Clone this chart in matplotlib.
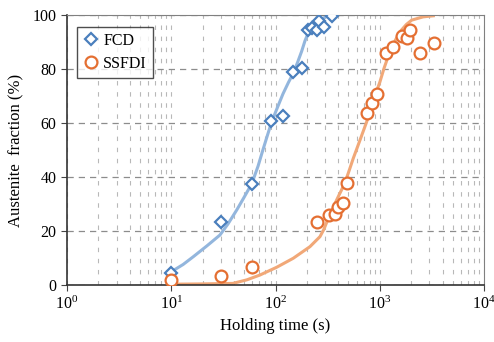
import numpy as np
import matplotlib.pyplot as plt
from matplotlib.ticker import LogLocator, NullFormatter

plt.rcParams['font.family'] = ['Liberation Serif', 'DejaVu Serif']
plt.rcParams['mathtext.fontset'] = 'stix'

# измеренные точки
fcd_t = [10, 30, 60, 90, 117, 148, 178, 206, 225, 248, 263, 292, 346]
fcd_f = [4.4, 23.3, 37.4, 60.8, 62.7, 79.0, 80.2, 94.6, 95.3, 94.4, 97.8, 95.5, 99.6]

ssfdi_t = [10, 30, 60, 248, 326, 372, 401, 448, 488, 749, 849, 948,
           1140, 1349, 1623, 1812, 1951, 2432, 3337]
ssfdi_f = [1.9, 3.3, 6.7, 23.5, 25.9, 26.3, 29.0, 30.5, 37.9, 63.6, 67.3, 70.6,
           86.0, 88.0, 92.2, 91.4, 94.4, 85.8, 89.7]

# аппроксимирующие кривые
fcd_fit_t = [10, 13, 16.3, 22, 29.3, 35, 42.5, 50, 57, 61, 68, 75, 83, 92, 105, 118,
             133, 148, 163, 178, 192, 206, 225, 240, 270, 300]
fcd_fit_f = [4.9, 7.6, 10.5, 14.5, 18.5, 22.6, 27.8, 32.5, 36.4, 38.9, 44, 49.5, 55,
             60.5, 66, 70.8, 75, 78.4, 82.5, 86.5, 90.5, 93.3, 95.8, 97.0, 98.4, 99.2]

ssfdi_fit_t = [10, 20, 39, 53, 71, 103, 148, 214, 267, 290, 310, 350, 386, 425, 464,
               510, 557, 647, 750, 870, 1005, 1100, 1208, 1350, 1563, 1800, 2025,
               2600, 3266]
ssfdi_fit_f = [0.3, 0.4, 0.6, 1.9, 3.7, 6.6, 9.9, 14.2, 17.9, 20.5, 23.2, 27.8, 31.5,
               34.8, 37.9, 42.5, 46.9, 53.7, 60.5, 68.5, 75.3, 80.3, 84.8, 89.3, 93.8,
               96.5, 98.1, 99.3, 99.7]

blue_m, blue_l = '#4a7fbd', '#93b6dd'
orange_m, orange_l = '#e46f32', '#f1a878'

fig = plt.figure(figsize=(4.94, 3.42), dpi=100)
ax = fig.add_axes([67 / 494, 57 / 342, 417 / 494, 270 / 342])

ax.plot(fcd_fit_t, fcd_fit_f, color=blue_l, lw=2.2, zorder=2)
ax.plot(ssfdi_fit_t, ssfdi_fit_f, color=orange_l, lw=2.2, zorder=2)
ax.plot(fcd_t, fcd_f, 'D', ms=6.5, mfc='white', mec=blue_m, mew=1.6, ls='none',
        label='FCD', zorder=3)
ax.plot(ssfdi_t, ssfdi_f, 'o', ms=8.5, mfc='white', mec=orange_m, mew=1.6, ls='none',
        label='SSFDI', zorder=3)

ax.set_xscale('log')
ax.set_xlim(1, 1e4)
ax.set_ylim(0, 100)
ax.set_yticks([0, 20, 40, 60, 80, 100])
ax.xaxis.set_major_locator(LogLocator(base=10, numticks=10))
ax.xaxis.set_minor_locator(LogLocator(base=10, subs=np.arange(2, 10), numticks=20))
ax.xaxis.set_minor_formatter(NullFormatter())

ax.grid(True, which='major', axis='y', color='#8c8c8c', ls=(0, (5, 4)), lw=0.9)
ax.grid(True, which='both', axis='x', color='#b8b8b8', ls=(0, (4, 6)), lw=0.8)

ax.tick_params(axis='both', which='major', labelsize=11.5, direction='out', length=4,
               color='#444444')
ax.tick_params(axis='x', which='minor', length=0)
for s in ['top', 'right']:
    ax.spines[s].set_color('#808080')
for s in ['left', 'bottom']:
    ax.spines[s].set_color('#333333')
    ax.spines[s].set_linewidth(1.2)

ax.set_xlabel('Holding time (s)', fontsize=12, labelpad=4)
ax.set_ylabel('Austenite  fraction (%)', fontsize=12, labelpad=6)

leg = ax.legend(loc='upper left', fontsize=11.5, frameon=True, fancybox=False,
                edgecolor='#222222', borderpad=0.35, handletextpad=0.3,
                handlelength=1.0, labelspacing=0.45, borderaxespad=0,
                bbox_to_anchor=(0.024, 0.955))
leg.get_frame().set_linewidth(1.0)

fig.savefig('out.png', dpi=100)
